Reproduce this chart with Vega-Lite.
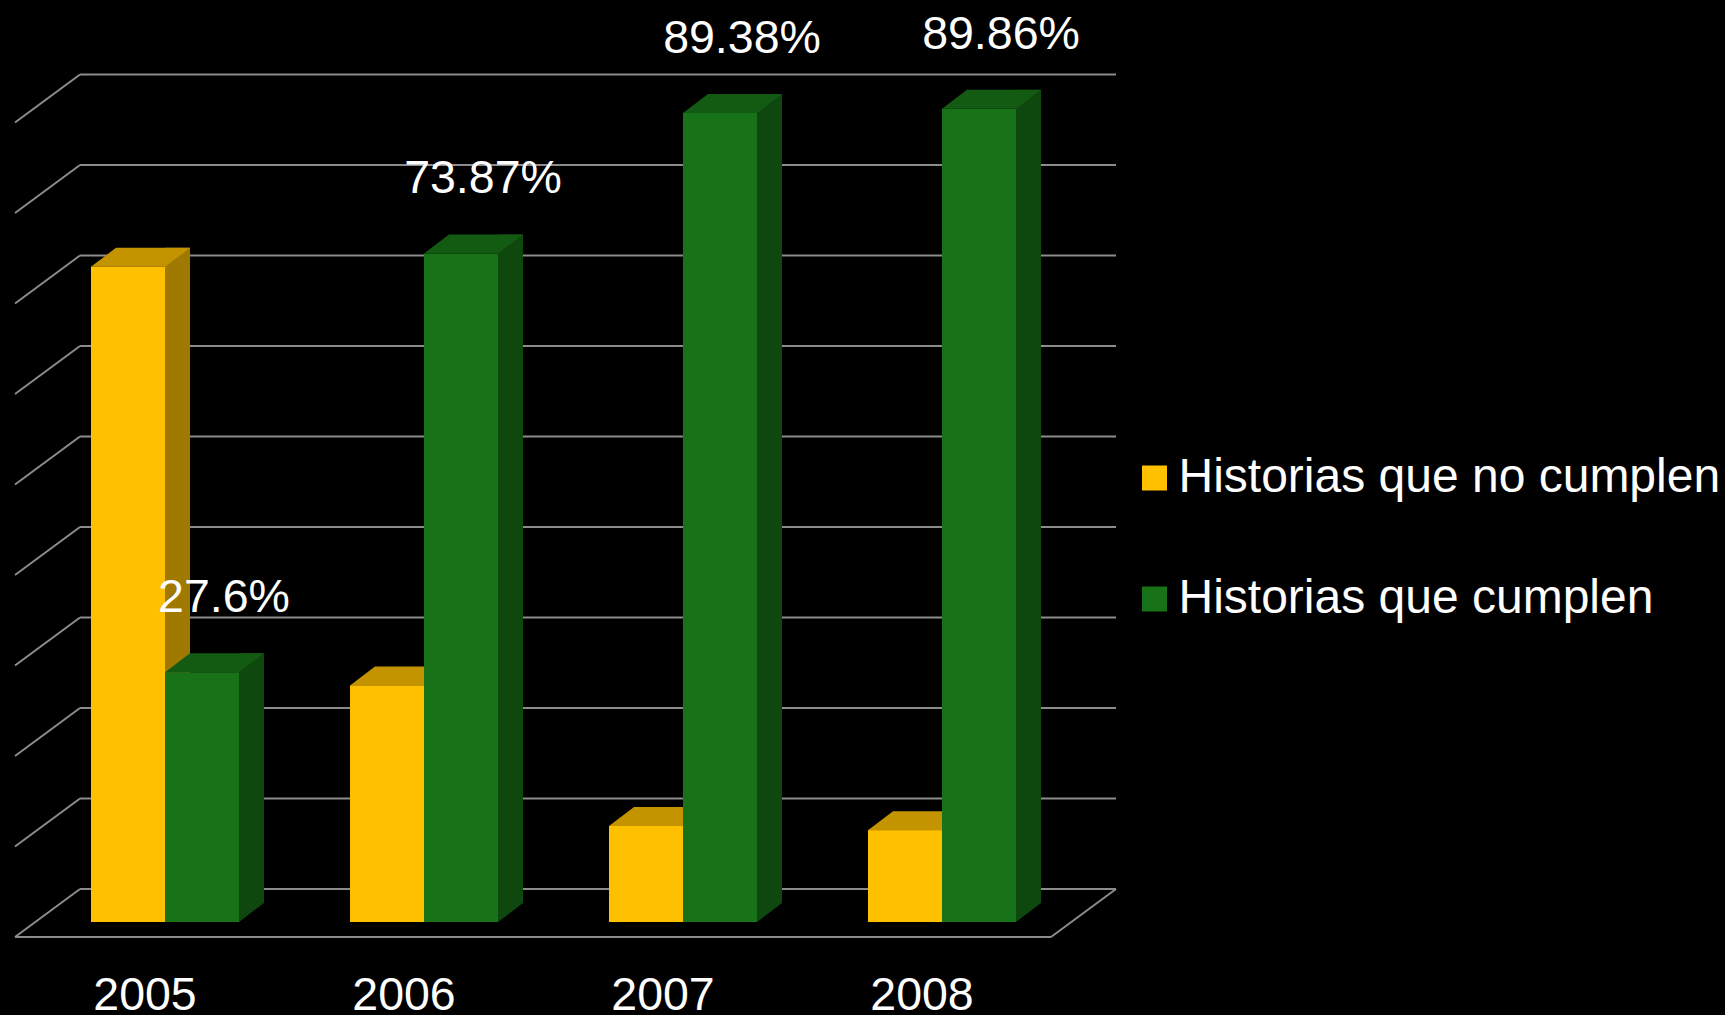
{
  "$schema": "https://vega.github.io/schema/vega-lite/v6.json",
  "width": 1036,
  "height": 905,
  "autosize": {"type": "none"},
  "padding": {"left": 35.5, "top": 17, "right": 653.5, "bottom": 93},
  "background": "#000000",
  "config": {
    "view": {"stroke": null},
    "font": "Liberation Sans"
  },
  "datasets": {
    "bars": [
      {"year": "2005", "series": "Historias que no cumplen", "value": 0.724},
      {"year": "2005", "series": "Historias que cumplen", "value": 0.276},
      {"year": "2006", "series": "Historias que no cumplen", "value": 0.2613},
      {"year": "2006", "series": "Historias que cumplen", "value": 0.7387},
      {"year": "2007", "series": "Historias que no cumplen", "value": 0.1062},
      {"year": "2007", "series": "Historias que cumplen", "value": 0.8938},
      {"year": "2008", "series": "Historias que no cumplen", "value": 0.1014},
      {"year": "2008", "series": "Historias que cumplen", "value": 0.8986}
    ],
    "grid": [
      {"v": 0}, {"v": 0.1}, {"v": 0.2}, {"v": 0.3}, {"v": 0.4},
      {"v": 0.5}, {"v": 0.6}, {"v": 0.7}, {"v": 0.8}, {"v": 0.9}
    ]
  },
  "layer": [
    {
      "data": {"name": "bars"},
      "transform": [{"filter": "datum.series === 'Historias que no cumplen'"}],
      "mark": {"type": "bar", "size": 74, "xOffset": -37},
      "encoding": {
        "x": {
          "field": "year", "type": "nominal", "axis": null,
          "scale": {"paddingInner": 0, "paddingOuter": 0}
        },
        "y": {"field": "value", "type": "quantitative", "scale": {"domain": [0, 1], "nice": false}, "axis": null},
        "color": {
          "field": "series", "type": "nominal",
          "scale": {"domain": ["Historias que no cumplen", "Historias que cumplen"], "range": ["#FFC000", "#187218"]},
          "legend": {
            "orient": "none", "legendX": 1095, "legendY": 437, "title": null,
            "symbolType": "square", "symbolSize": 625, "symbolStrokeWidth": 0,
            "labelFontSize": 48, "labelColor": "#ffffff", "labelFont": "Liberation Sans",
            "labelOffset": 0, "rowPadding": 73, "labelLimit": 1000
          }
        }
      }
    },
    {
      "data": {"name": "grid"},
      "mark": {"type": "rule", "color": "#8C8C8C", "strokeWidth": 2, "xOffset": 44.5, "x2Offset": 44.5, "yOffset": -33, "y2Offset": -33},
      "encoding": {
        "x": {"datum": "2005", "bandPosition": 0, "axis": null},
        "x2": {"datum": "2008", "bandPosition": 1},
        "y": {"field": "v", "type": "quantitative", "axis": null},
        "y2": {"field": "v"}
      }
    },
    {
      "data": {"name": "grid"},
      "mark": {"type": "rule", "color": "#8C8C8C", "strokeWidth": 2, "xOffset": -20.5, "yOffset": 15, "x2Offset": 44.5, "y2Offset": -33},
      "encoding": {
        "x": {"datum": "2005", "bandPosition": 0, "axis": null},
        "x2": {"datum": "2005", "bandPosition": 0},
        "y": {"field": "v", "type": "quantitative", "axis": null},
        "y2": {"field": "v"}
      }
    },
    {
      "data": {"values": [{"v": 0}]},
      "mark": {"type": "rule", "color": "#8C8C8C", "strokeWidth": 2, "xOffset": -20.5, "x2Offset": -20.5, "yOffset": 15, "y2Offset": 15},
      "encoding": {
        "x": {"datum": "2005", "bandPosition": 0, "axis": null},
        "x2": {"datum": "2008", "bandPosition": 1},
        "y": {"field": "v", "type": "quantitative", "axis": null},
        "y2": {"field": "v"}
      }
    },
    {
      "data": {"values": [{"v": 0}]},
      "mark": {"type": "rule", "color": "#8C8C8C", "strokeWidth": 2, "xOffset": -20.5, "yOffset": 15, "x2Offset": 44.5, "y2Offset": -33},
      "encoding": {
        "x": {"datum": "2008", "bandPosition": 1, "axis": null},
        "x2": {"datum": "2008", "bandPosition": 1},
        "y": {"field": "v", "type": "quantitative", "axis": null},
        "y2": {"field": "v"}
      }
    },
    {
      "data": {"name": "bars"},
      "transform": [{"filter": "datum.series === 'Historias que no cumplen'"}],
      "mark": {"type": "bar", "size": 74, "xOffset": -37, "color": "#FFC000"},
      "encoding": {
        "x": {"field": "year", "type": "nominal", "axis": null},
        "y": {"field": "value", "type": "quantitative", "axis": null}
      }
    },
    {
      "data": {"name": "bars"},
      "transform": [{"filter": "datum.series === 'Historias que no cumplen'"}],
      "mark": {"type": "bar", "size": 25, "xOffset": 12.5, "yOffset": -19, "y2Offset": -19, "color": "#A07A00"},
      "encoding": {
        "x": {"field": "year", "type": "nominal", "axis": null},
        "y": {"field": "value", "type": "quantitative", "axis": null},
        "y2": {"datum": 0}
      }
    },
    {
      "data": {"name": "bars"},
      "transform": [{"filter": "datum.series === 'Historias que no cumplen'"}],
      "mark": {"type": "point", "shape": "M0,-0.76L0,0L1,-0.76Z", "size": 2500, "filled": true, "opacity": 1, "strokeWidth": 0, "color": "#A07A00"},
      "encoding": {
        "x": {"field": "year", "type": "nominal", "axis": null},
        "y": {"datum": 0, "type": "quantitative", "axis": null}
      }
    },
    {
      "data": {"name": "bars"},
      "transform": [{"filter": "datum.series === 'Historias que no cumplen'"}],
      "mark": {"type": "point", "shape": "M0,0L0.74,0L0.99,-0.19L0.25,-0.19Z", "size": 40000, "filled": true, "opacity": 1, "strokeWidth": 0, "color": "#C49300", "xOffset": -74},
      "encoding": {
        "x": {"field": "year", "type": "nominal", "axis": null},
        "y": {"field": "value", "type": "quantitative", "axis": null}
      }
    },
    {
      "data": {"name": "bars"},
      "transform": [{"filter": "datum.series === 'Historias que cumplen'"}],
      "mark": {"type": "bar", "size": 74, "xOffset": 37, "color": "#187218"},
      "encoding": {
        "x": {"field": "year", "type": "nominal", "axis": null},
        "y": {"field": "value", "type": "quantitative", "axis": null}
      }
    },
    {
      "data": {"name": "bars"},
      "transform": [{"filter": "datum.series === 'Historias que cumplen'"}],
      "mark": {"type": "bar", "size": 25, "xOffset": 86.5, "yOffset": -19, "y2Offset": -19, "color": "#0F480F"},
      "encoding": {
        "x": {"field": "year", "type": "nominal", "axis": null},
        "y": {"field": "value", "type": "quantitative", "axis": null},
        "y2": {"datum": 0}
      }
    },
    {
      "data": {"name": "bars"},
      "transform": [{"filter": "datum.series === 'Historias que cumplen'"}],
      "mark": {"type": "point", "shape": "M0,-0.76L0,0L1,-0.76Z", "size": 2500, "filled": true, "opacity": 1, "strokeWidth": 0, "color": "#0F480F", "xOffset": 74},
      "encoding": {
        "x": {"field": "year", "type": "nominal", "axis": null},
        "y": {"datum": 0, "type": "quantitative", "axis": null}
      }
    },
    {
      "data": {"name": "bars"},
      "transform": [{"filter": "datum.series === 'Historias que cumplen'"}],
      "mark": {"type": "point", "shape": "M0,0L0.74,0L0.99,-0.19L0.25,-0.19Z", "size": 40000, "filled": true, "opacity": 1, "strokeWidth": 0, "color": "#135A13", "xOffset": 0},
      "encoding": {
        "x": {"field": "year", "type": "nominal", "axis": null},
        "y": {"field": "value", "type": "quantitative", "axis": null}
      }
    },
    {
      "data": {"name": "bars"},
      "transform": [{"filter": "datum.series === 'Historias que cumplen'"}],
      "mark": {"type": "text", "xOffset": 59, "dy": -60, "baseline": "alphabetic", "align": "center", "fontSize": 46.5, "font": "Liberation Sans", "color": "#ffffff"},
      "encoding": {
        "x": {"field": "year", "type": "nominal", "axis": null},
        "y": {"field": "value", "type": "quantitative", "axis": null},
        "text": {"field": "value", "type": "quantitative", "format": ".2~%"}
      }
    },
    {
      "data": {"name": "bars"},
      "transform": [{"filter": "datum.series === 'Historias que cumplen'"}],
      "mark": {"type": "text", "xOffset": -20, "dy": 88, "baseline": "alphabetic", "align": "center", "fontSize": 46.5, "font": "Liberation Sans", "color": "#ffffff"},
      "encoding": {
        "x": {"field": "year", "type": "nominal", "axis": null},
        "y": {"datum": 0, "type": "quantitative", "axis": null},
        "text": {"field": "year", "type": "nominal"}
      }
    }
  ]
}
